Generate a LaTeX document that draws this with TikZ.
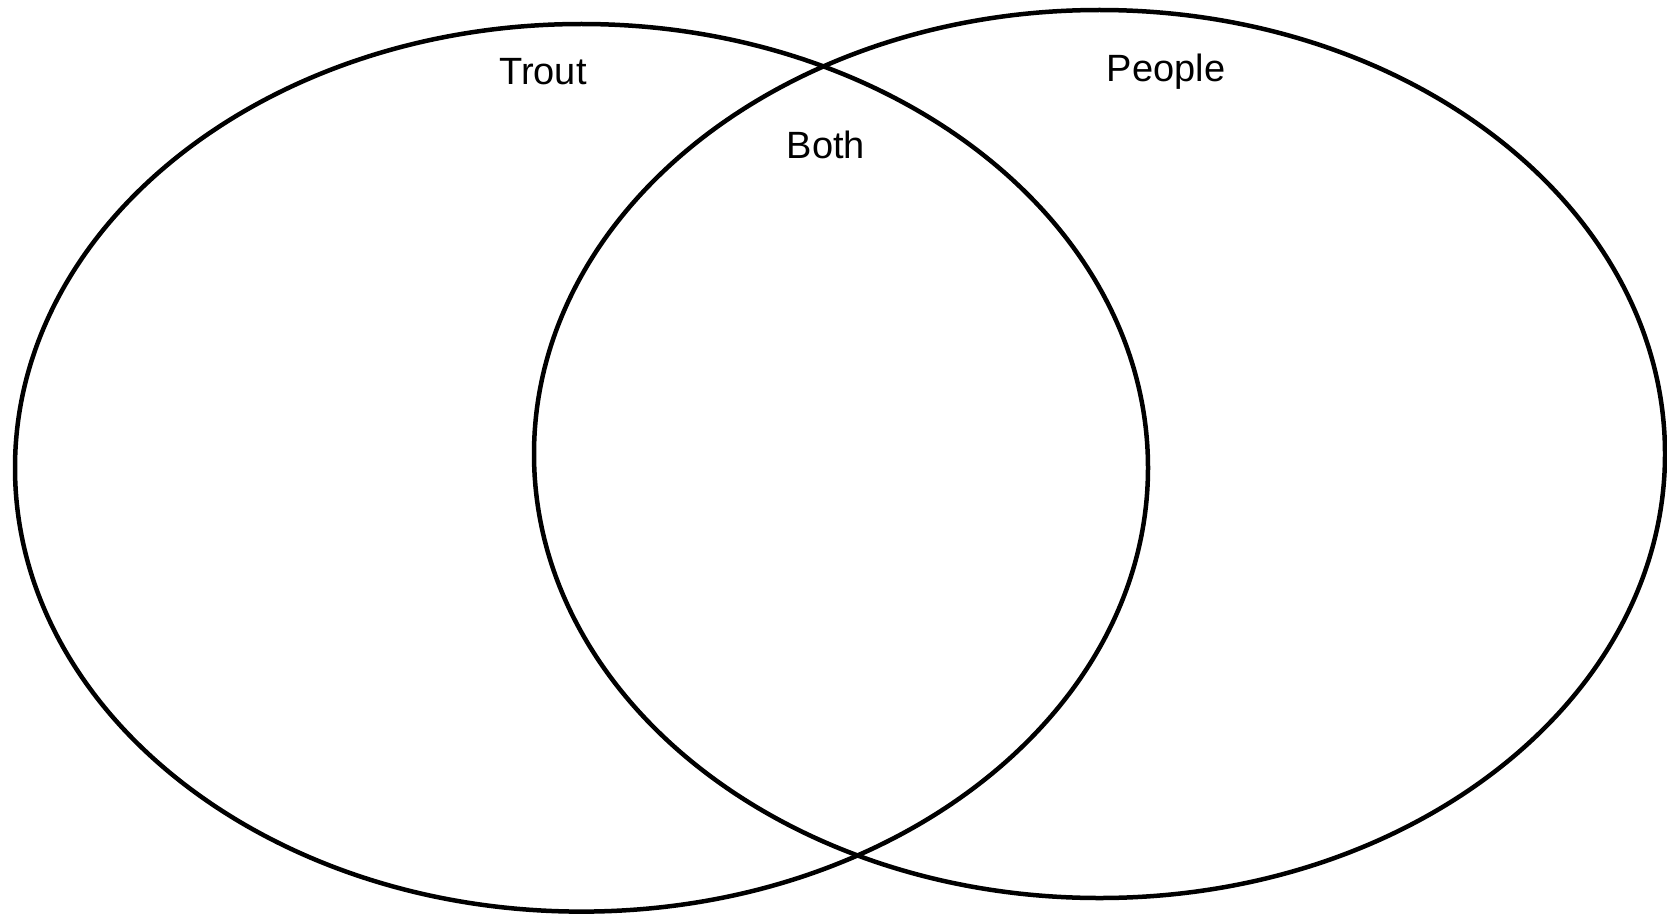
\documentclass[tikz,border=0pt]{standalone}
\usepackage{fontspec}
\setmainfont{Liberation Sans}
\begin{document}
\begin{tikzpicture}[x=1pt,y=-1pt,
  setcircle/.style={draw=black,line width=4.5pt},
  setlabel/.style={anchor=base,inner sep=0pt,font=\fontsize{38}{42}\selectfont}]
\useasboundingbox (0,0) rectangle (1667,915);
\draw[setcircle] (581.5,467.8) ellipse [x radius=566.5, y radius=443.8];
\draw[setcircle] (1099.5,454) ellipse [x radius=565.5, y radius=444];
\node[setlabel] (trout) at (543,85) {Trout};
\node[setlabel] (both) at (826,158) {Both};
\node[setlabel] (people) at (1166,82) {People};
\end{tikzpicture}
\end{document}
